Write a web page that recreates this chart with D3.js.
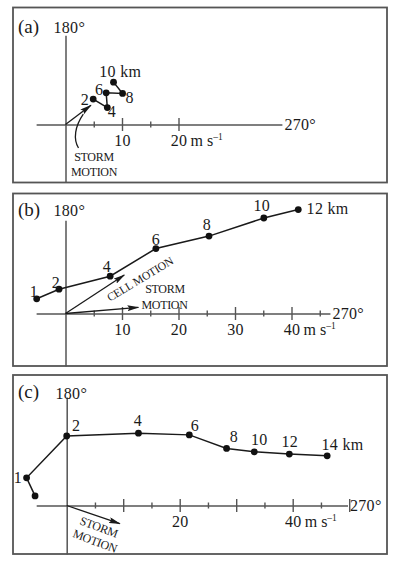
<!DOCTYPE html>
<html>
<head>
<meta charset="utf-8">
<script src="https://cdn.jsdelivr.net/npm/d3@7"></script>
<style>
  html, body { margin: 0; padding: 0; background: #fff; }
  svg { display: block; }
  text { font-family: "Liberation Serif", "Times New Roman", serif; fill: #1a1a1a; }
</style>
</head>
<body>
<svg id="chart" width="394" height="563"></svg>
<script>
// Hodographs: wind at each height (km), components in m s-1.
// u points toward 270° (right), v points toward 180° (up).

// (a)
const heightsA = ["2", "4", "6", "8", "10 km"];
const uA = [4.9, 7.4, 7.2, 10.1, 8.5];
const vA = [4.5, 3.0, 5.6, 5.5, 7.5];
const stormA = [4.5, 3.4];
const ticksA = [5, 10, 15, 20];
const tickLabelsA = [10, 20];

// (b)
const heightsB = ["1", "2", "4", "6", "8", "10", "12 km"];
const uB = [-5.1, -1.15, 7.9, 16.0, 25.4, 35.1, 41.2];
const vB = [2.6, 4.3, 6.6, 11.5, 13.7, 16.9, 18.4];
const stormB = [12.9, 1.1];
const cellB = [10.4, 6.8];
const ticksB = [5, 10, 15, 20, 25, 30, 35, 40, 45];
const tickLabelsB = [10, 20, 30, 40];

// (c)
const heightsC = ["", "1", "2", "4", "6", "8", "10", "12", "14 km"];
const uC = [-5.6, -7.1, 0, 12.7, 21.7, 28.3, 33.2, 39.4, 46.1];
const vC = [1.7, 4.9, 12.3, 12.8, 12.5, 10.1, 9.5, 9.1, 8.8];
const stormC = [9.4, -3.2];
const ticksC = [5, 10, 15, 20, 25, 30, 35, 40, 45, 50];
const tickLabelsC = [20, 40];

// Label placement for each height label: [dx, dy, anchor]
const labelPosA = [[-8.3, 5.7, "middle"], [4.7, 9, "middle"], [-7, 2.3, "middle"], [7.2, 9.4, "middle"], [6.7, -5, "middle"]];
const labelPosB = [[-2.7, -2.3, "middle"], [-3, -1, "middle"], [-3.3, -4, "middle"], [0, -4, "middle"], [-2, -6.3, "middle"], [-2, -6.6, "middle"], [8.3, 4, "start"]];
const labelPosC = [[0, 0, "middle"], [-8.7, 5, "middle"], [9.5, -5.3, "middle"], [-0.5, -7.6, "middle"], [5.7, -4.3, "middle"], [7.3, -6.6, "middle"], [5, -6.7, "middle"], [0.4, -7.3, "middle"], [-5.6, -6, "start"]];

const PX = 5.65; // pixels per m s-1
const FS = "16px";
const LS = "0.3px";

const panels = [
  {
    tag: "(a)", box: [13, 7.5, 374, 175], origin: [65.5, 124.5],
    uStart: -5.2, uEnd: 38.3, vTop: 15.8, endBar: false,
    heights: heightsA, u: uA, v: vA, pos: labelPosA,
    ticks: ticksA, major: [10, 20], tickLabels: tickLabelsA, unitAt: 20,
    tagY: 32.5, north: [53.5, 32.5],
    storm: stormA, cell: null
  },
  {
    tag: "(b)", box: [13, 193.5, 374, 172.5], origin: [65.5, 313.5],
    uStart: -5.2, uEnd: 46.8, vTop: 16.5, endBar: false,
    heights: heightsB, u: uB, v: vB, pos: labelPosB,
    ticks: ticksB, major: [10, 20, 30, 40], tickLabels: tickLabelsB, unitAt: 40,
    tagY: 216, north: [53.5, 215.5],
    storm: stormB, cell: cellB
  },
  {
    tag: "(c)", box: [13, 375, 374, 179], origin: [66.7, 505.5],
    uStart: -5.4, uEnd: 49.7, vTop: 19.2, endBar: true,
    heights: heightsC, u: uC, v: vC, pos: labelPosC,
    ticks: ticksC, major: [10, 20, 30, 40, 50], tickLabels: tickLabelsC, unitAt: 40,
    tagY: 397.5, north: [55.5, 399],
    storm: stormC, cell: null
  }
];

const svg = d3.select("#chart");

// arrowhead used for storm and cell motion vectors
svg.append("defs").append("marker")
  .attr("id", "head")
  .attr("markerUnits", "userSpaceOnUse")
  .attr("viewBox", "0 0 12 6")
  .attr("refX", 11).attr("refY", 3)
  .attr("markerWidth", 12).attr("markerHeight", 6)
  .attr("orient", "auto")
  .append("path")
  .attr("d", "M0,0 L12,3 L0,6 L2,3 Z")
  .attr("fill", "#1a1a1a");

panels.forEach((p, i) => {
  const g = svg.append("g");
  const [ox, oy] = p.origin;
  const bottom = p.box[1] + p.box[3];

  const x = d3.scaleLinear().domain([p.uStart, p.uEnd])
    .range([ox + p.uStart * PX, ox + p.uEnd * PX]);
  const vBottom = (oy - bottom) / PX;
  const y = d3.scaleLinear().domain([vBottom, p.vTop])
    .range([bottom, oy - p.vTop * PX]);

  // frame
  g.append("rect")
    .attr("x", p.box[0]).attr("y", p.box[1])
    .attr("width", p.box[2]).attr("height", p.box[3])
    .attr("fill", "none").attr("stroke", "#555").attr("stroke-width", 1.8);

  // horizontal (270°) axis
  const xAxis = d3.axisBottom(x)
    .tickValues(p.ticks)
    .tickSizeOuter(0)
    .tickFormat(d => p.tickLabels.includes(d) ? d3.format("d")(d) : "");
  const ax = g.append("g").attr("transform", `translate(0,${y(0)})`).call(xAxis);
  ax.select(".domain").attr("stroke", "#555").attr("stroke-width", 1.5);
  ax.selectAll(".tick line")
    .attr("stroke", "#555").attr("stroke-width", 1.4)
    .attr("y1", d => p.major.includes(d) ? -6.5 : -3)
    .attr("y2", d => p.major.includes(d) ? 6.5 : 3)
    .attr("display", d => (d === 50 && !p.endBar) ? "none" : null);
  ax.selectAll(".tick text")
    .attr("y", 0).attr("dy", 21.5)
    .style("font-family", '"Liberation Serif", serif')
    .style("font-size", FS).style("letter-spacing", LS).attr("fill", "#1a1a1a");

  // unit after the last labelled tick
  const unit = ax.append("text")
    .attr("x", x(p.unitAt) + 12).attr("y", 21.5)
    .attr("text-anchor", "start")
    .style("font-size", FS).attr("fill", "#1a1a1a");
  unit.append("tspan").text("m s");
  unit.append("tspan").text("–1").attr("font-size", "9.5px").attr("dy", -6);

  g.append("text")
    .attr("x", x(p.uEnd) + 2.5).attr("y", y(0) + 5.5)
    .style("font-size", FS).style("letter-spacing", LS)
    .text("270°");

  // vertical (180°) axis
  const yAxis = d3.axisLeft(y).tickValues([]).tickSizeOuter(0);
  const ay = g.append("g").attr("transform", `translate(${x(0)},0)`).call(yAxis);
  ay.select(".domain").attr("stroke", "#555").attr("stroke-width", 1.5);

  g.append("text")
    .attr("x", p.north[0]).attr("y", p.north[1])
    .style("font-size", FS).style("letter-spacing", LS)
    .text("180°");

  g.append("text")
    .attr("x", 18).attr("y", p.tagY)
    .style("font-size", "19px")
    .text(p.tag);

  // motion vectors
  const vec = (uv) => g.append("line")
    .attr("x1", x(0)).attr("y1", y(0))
    .attr("x2", x(uv[0])).attr("y2", y(uv[1]))
    .attr("stroke", "#1a1a1a").attr("stroke-width", 1.3)
    .attr("marker-end", "url(#head)");
  vec(p.storm);
  if (p.cell) vec(p.cell);

  // hodograph trace
  const pts = p.u.map((u, k) => ({ u, v: p.v[k], h: p.heights[k], pos: p.pos[k] }));
  g.append("path")
    .datum(pts)
    .attr("d", d3.line().x(d => x(d.u)).y(d => y(d.v)))
    .attr("fill", "none").attr("stroke", "#1a1a1a").attr("stroke-width", 1.5);
  g.selectAll("circle.pt").data(pts).join("circle")
    .attr("class", "pt")
    .attr("cx", d => x(d.u)).attr("cy", d => y(d.v))
    .attr("r", 3.4).attr("fill", "#111");
  g.selectAll("text.h").data(pts.filter(d => d.h !== "")).join("text")
    .attr("class", "h")
    .attr("x", d => x(d.u) + d.pos[0]).attr("y", d => y(d.v) + d.pos[1])
    .attr("text-anchor", d => d.pos[2])
    .style("font-size", FS).style("letter-spacing", LS)
    .text(d => d.h);

  // annotations
  if (i === 0) {
    const tipX = x(p.storm[0] * 0.7), tipY = y(p.storm[1] * 0.7);
    g.append("path")
      .attr("d", `M78.5,148 C73,139 75,126 ${tipX},${tipY + 3}`)
      .attr("fill", "none").attr("stroke", "#1a1a1a").attr("stroke-width", 1.3);
    g.append("text").attr("x", 94).attr("y", 161).attr("text-anchor", "middle")
      .style("font-size", "12px").style("letter-spacing", "-0.3px").text("STORM");
    g.append("text").attr("x", 94).attr("y", 176).attr("text-anchor", "middle")
      .style("font-size", "12px").style("letter-spacing", "-0.3px").text("MOTION");
  } else if (i === 1) {
    g.append("text")
      .attr("transform", "translate(140,279) rotate(-31)")
      .attr("text-anchor", "middle").attr("dy", "0.35em")
      .style("font-size", "11.5px").style("letter-spacing", "-0.2px").text("CELL MOTION");
    g.append("text").attr("x", 165).attr("y", 292.5).attr("text-anchor", "middle")
      .style("font-size", "12px").style("letter-spacing", "-0.3px").text("STORM");
    g.append("text").attr("x", 164.5).attr("y", 308.5).attr("text-anchor", "middle")
      .style("font-size", "12px").style("letter-spacing", "-0.3px").text("MOTION");
  } else {
    g.append("text")
      .attr("transform", "translate(99,527) rotate(20.5)")
      .attr("text-anchor", "middle").attr("dy", "0.35em")
      .style("font-size", "12px").style("letter-spacing", "-0.3px").text("STORM");
    g.append("text")
      .attr("transform", "translate(95,541) rotate(20.5)")
      .attr("text-anchor", "middle").attr("dy", "0.35em")
      .style("font-size", "12px").style("letter-spacing", "-0.3px").text("MOTION");
  }
});
</script>
</body>
</html>
